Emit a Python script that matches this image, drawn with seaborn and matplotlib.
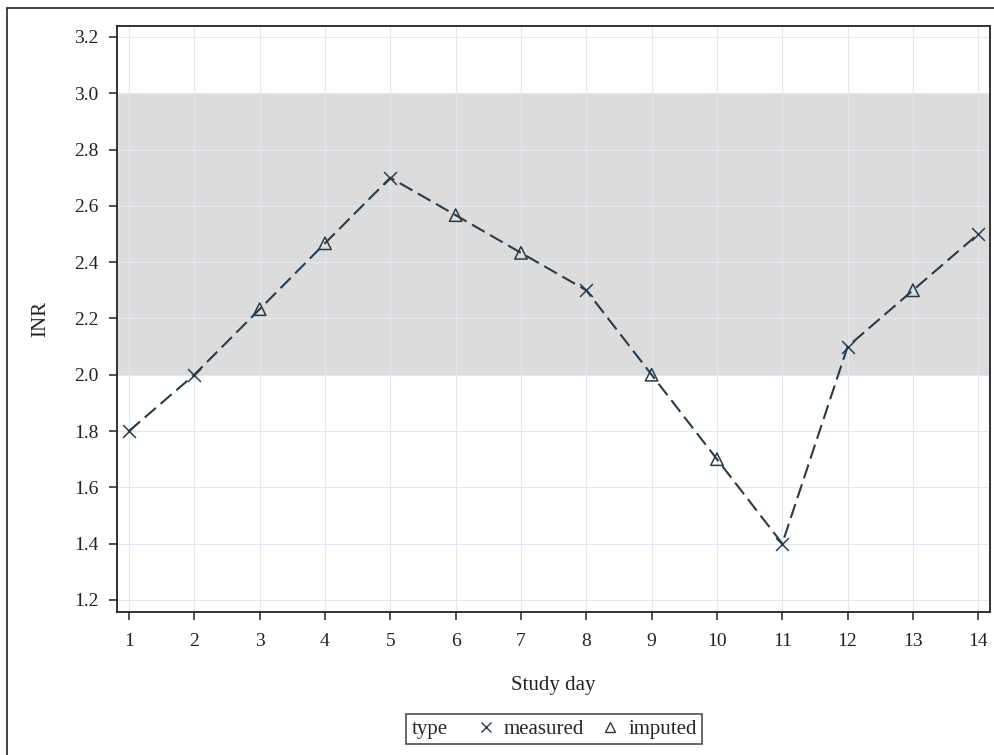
"""
INR by study day, measured vs imputed values, with the 2.0-3.0 target band.
"""

import matplotlib
matplotlib.use("Agg")

import pandas as pd
import matplotlib.pyplot as plt
import seaborn as sns
from matplotlib.lines import Line2D
from matplotlib.offsetbox import HPacker

# =============================================================================
# DATA
# =============================================================================

study_day = [1, 2, 3, 4, 5, 6, 7, 8, 9, 10, 11, 12, 13, 14]

inr = [1.80, 2.00, 2.233, 2.467, 2.70, 2.567, 2.433, 2.30,
       2.00, 1.70, 1.40, 2.10, 2.30, 2.50]

value_type = ["measured", "measured", "imputed", "imputed", "measured",
              "imputed", "imputed", "measured", "imputed", "imputed",
              "measured", "measured", "imputed", "measured"]

target_low = 2.0
target_high = 3.0

y_ticks = [1.2, 1.4, 1.6, 1.8, 2.0, 2.2, 2.4, 2.6, 2.8, 3.0, 3.2]

df = pd.DataFrame({"day": study_day, "INR": inr, "type": value_type})

# =============================================================================
# STYLE
# =============================================================================

sns.set_style("white")
plt.rcParams["font.family"] = ["Liberation Serif", "DejaVu Serif"]

line_color = "#2b3a45"
grid_color = "#dfe9f3"
text_color = "#222222"

fig = plt.figure(figsize=(9.95, 7.55), dpi=100)
ax = fig.add_axes([117 / 995, 1 - 612 / 755, (990 - 117) / 995, (612 - 26) / 755])

# target range band
ax.axhspan(target_low, target_high, color="#dcdcdc", zorder=0, lw=0)

sns.lineplot(
    data=df,
    x="day",
    y="INR",
    color=line_color,
    linestyle=(0, (7, 3)),
    linewidth=1.5,
    ax=ax,
    zorder=3,
)

# measured points (x)
sns.scatterplot(
    data=df[df["type"] == "measured"],
    x="day",
    y="INR",
    marker="x",
    s=85,
    color=line_color,
    linewidth=1.1,
    legend=False,
    ax=ax,
    zorder=4,
)

# imputed points (hollow triangle)
sns.scatterplot(
    data=df[df["type"] == "imputed"],
    x="day",
    y="INR",
    marker="^",
    s=80,
    facecolor="none",
    edgecolor=line_color,
    linewidth=1.1,
    legend=False,
    ax=ax,
    zorder=4,
)

ax.set_xlim(0.816, 14.18)
ax.set_ylim(1.157, 3.239)
ax.set_xticks(study_day)
ax.set_yticks(y_ticks)
ax.set_yticklabels([f"{v:.1f}" for v in y_ticks])

ax.grid(True, color=grid_color, linewidth=0.8, zorder=1)
ax.set_axisbelow(True)

for side in ["left", "bottom", "top", "right"]:
    ax.spines[side].set_visible(True)
    ax.spines[side].set_color(text_color)
    ax.spines[side].set_linewidth(1.3)

ax.tick_params(
    axis="both",
    direction="out",
    length=6,
    width=1.1,
    color=text_color,
    labelsize=14,
    labelcolor=text_color,
    left=True,
    bottom=True,
)
ax.tick_params(axis="x", pad=9)
ax.tick_params(axis="y", pad=7.5)

ax.set_xlabel("Study day", fontsize=15, labelpad=19, color=text_color)
ax.set_ylabel("INR", fontsize=15, labelpad=17, color=text_color)

# =============================================================================
# LEGEND
# =============================================================================

handles = [
    Line2D([], [], marker="x", linestyle="none", color=line_color,
           markersize=7, markeredgewidth=1.0),
    Line2D([], [], marker="^", linestyle="none", color=line_color,
           markerfacecolor="none", markersize=7.5, markeredgewidth=1.0),
]

leg = fig.legend(
    handles,
    ["measured", "imputed"],
    title="type",
    ncol=2,
    loc="center",
    bbox_to_anchor=(554 / 995, 1 - 729 / 755),
    frameon=True,
    fancybox=False,
    edgecolor=text_color,
    fontsize=15,
    title_fontsize=15,
    handlelength=1.0,
    handletextpad=0.36,
    columnspacing=0.77,
    borderpad=0.3,
)
leg.get_frame().set_linewidth(1.2)

# put the legend title on the same line as the entries
box = HPacker(
    pad=4,
    sep=20,
    align="baseline",
    children=[leg._legend_title_box, leg._legend_handle_box],
)
box.set_figure(fig)
box.set_offset(leg._findoffset)
leg._legend_box = box

# =============================================================================
# OUTER FRAME
# =============================================================================

fig.add_artist(Line2D([7 / 995, 1], [1 - 8 / 755, 1 - 8 / 755],
                      transform=fig.transFigure, color=text_color, lw=1.2))
fig.add_artist(Line2D([7 / 995, 7 / 995], [0, 1 - 8 / 755],
                      transform=fig.transFigure, color=text_color, lw=1.2))

fig.savefig("out.png", dpi=100)
plt.close(fig)
